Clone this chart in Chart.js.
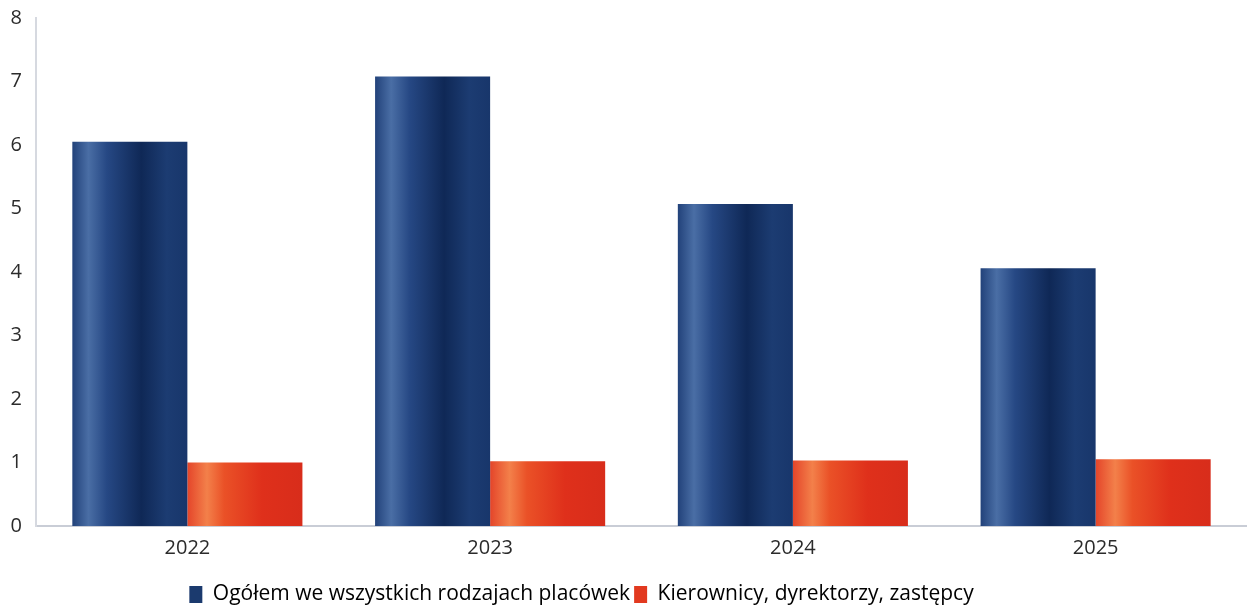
<!DOCTYPE html>
<html lang="pl">

<head>
    <meta charset="UTF-8">
    <title>Wykres</title>
    <style>
        body {
            margin: 0;
            background: #ffffff;
        }

        .myChart {
            width: 1247px;
            height: 609px;
        }
    </style>
</head>

<body>
    <div class="myChart">
        <canvas id="myChart" width="1247" height="609"></canvas>
    </div>

    <script src="https://cdn.jsdelivr.net/npm/chart.js"></script>

    <script>
        // dane
        const years = ['2022', '2023', '2024', '2025'];
        const ogolem = [6.05, 7.08, 5.07, 4.06];
        const kierownicy = [1.0, 1.02, 1.03, 1.05];
        const seriesNames = ['Ogółem we wszystkich rodzajach placówek', 'Kierownicy, dyrektorzy, zastępcy'];

        // kolory "walca" - gradient poziomy
        const blueStops = [[0, '#22427a'], [0.14, '#4a6ea5'], [0.3, '#264884'], [0.6, '#0f2856'], [0.82, '#1c3c72'], [1, '#18366b']];
        const redStops = [[0, '#e4452a'], [0.17, '#f3804a'], [0.32, '#ea5127'], [0.65, '#df301b'], [1, '#d82d1b']];
        const solid = ['#1b3a6e', '#e2391f'];

        function barGradient(stops, fallback) {
            return function (ctx) {
                const el = ctx.element;
                if (!el || !el.width) return fallback;
                const x0 = el.x - el.width / 2;
                const g = ctx.chart.ctx.createLinearGradient(x0, 0, x0 + el.width, 0);
                stops.forEach(s => g.addColorStop(s[0], s[1]));
                return g;
            };
        }

        // przesunięcie legendy (w oryginale nie jest idealnie na środku)
        const legendShift = {
            id: 'legendShift',
            afterLayout(chart) {
                const l = chart.legend;
                if (!l) return;
                l.left -= 42;
                l.right -= 42;
                l.top += 6;
                l.bottom += 6;
            }
        };

        Chart.defaults.font.family = "'Open Sans', 'Noto Sans', sans-serif";
        Chart.defaults.color = '#2b2b2b';

        const ctx = document.getElementById('myChart').getContext('2d');
        const myChart = new Chart(ctx, {
            type: 'bar',
            data: {
                labels: years,
                datasets: [{
                    label: seriesNames[0],
                    data: ogolem,
                    backgroundColor: barGradient(blueStops, solid[0]),
                    borderWidth: 0
                }, {
                    label: seriesNames[1],
                    data: kierownicy,
                    backgroundColor: barGradient(redStops, solid[1]),
                    borderWidth: 0
                }]
            },
            options: {
                responsive: false,
                animation: false,
                layout: {
                    padding: { top: 6, right: 0, left: 0, bottom: 0 }
                },
                datasets: {
                    bar: {
                        categoryPercentage: 0.76,
                        barPercentage: 1.0
                    }
                },
                plugins: {
                    tooltip: { enabled: false },
                    legend: {
                        position: 'bottom',
                        labels: {
                            boxWidth: 13,
                            boxHeight: 17,
                            padding: 4,
                            font: { size: 21 },
                            generateLabels: function (chart) {
                                return chart.data.datasets.map((ds, i) => ({
                                    text: ds.label,
                                    fillStyle: solid[i],
                                    strokeStyle: solid[i],
                                    lineWidth: 0,
                                    datasetIndex: i
                                }));
                            }
                        }
                    }
                },
                scales: {
                    x: {
                        grid: { display: false },
                        border: { display: true, color: '#c9cdd6', width: 2 },
                        ticks: { font: { size: 20 }, padding: 2 },
                        afterFit: function (scale) {
                            scale.height = 48;
                        }
                    },
                    y: {
                        min: 0,
                        max: 8,
                        grid: { display: false },
                        border: { display: true, color: '#d6d9e0', width: 2 },
                        ticks: { stepSize: 1, font: { size: 20 }, padding: 6 },
                        afterFit: function (scale) {
                            scale.width = 36;
                        }
                    }
                }
            },
            plugins: [legendShift]
        });

        // drugi przebieg, żeby gradienty znały położenie słupków
        myChart.update();
    </script>

</body>

</html>
